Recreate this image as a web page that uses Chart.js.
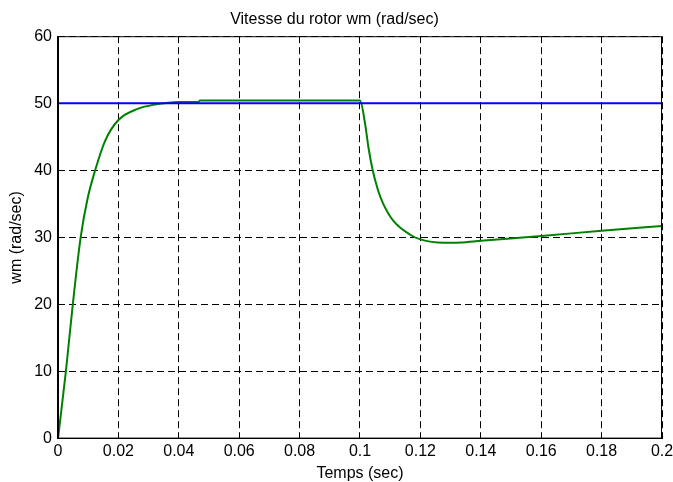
<!DOCTYPE html>
<html>
<head>
<meta charset="utf-8">
<script src="https://cdn.jsdelivr.net/npm/chart.js@4"></script>
<style>
  html, body { margin: 0; padding: 0; background: #fff; }
  #wrap { width: 673px; height: 482px; }
</style>
</head>
<body>
<div id="wrap"><canvas id="myChart" width="673" height="482"></canvas></div>
<script>
// rotor speed
const timeSec = [0, 0.0026, 0.0049, 0.0075, 0.0098, 0.0123, 0.0156, 0.02,
  0.0266, 0.032, 0.04, 0.0465, 0.047, 0.0998, 0.1, 0.1017, 0.1028, 0.1042, 0.106, 0.1077,
  0.111, 0.1166, 0.12, 0.1277, 0.1333, 0.14, 0.16, 0.18, 0.2];
const wmSpeed = [0, 10, 20, 30, 35.8, 40, 44.4, 47.5,
  49.2, 49.8, 50.2, 50.2, 50.4, 50.4, 50.4, 46.9, 43.4, 40, 37, 35,
  32.5, 30.4, 29.7, 29.2, 29.25, 29.5, 30.2, 31.0, 31.7];
const refTime = [0, 0.2];
const refSpeed = [50, 50];

const xTicks = [0, 0.02, 0.04, 0.06, 0.08, 0.1, 0.12, 0.14, 0.16, 0.18, 0.2];
const yTicks = [0, 10, 20, 30, 40, 50, 60];

const FONT = "'Liberation Sans', Arial, sans-serif";

const frame = {
  id: "frame",
  afterDatasetsDraw(chart) {
    const { ctx, chartArea: a } = chart;
    ctx.save();
    ctx.strokeStyle = "#000";
    ctx.lineWidth = 1;
    ctx.setLineDash([]);
    ctx.strokeRect(a.left + 0.5, a.top + 0.5, a.right - a.left - 1, a.bottom - a.top - 1);
    ctx.restore();
  },
};

const ctx = document.getElementById("myChart").getContext("2d");
new Chart(ctx, {
  type: "line",
  data: {
    datasets: [
      {
        label: "wm ref",
        data: refTime.map((t, i) => ({ x: t, y: refSpeed[i] })),
        borderColor: "#0000ff",
        borderWidth: 2,
        pointRadius: 0,
        fill: false,
      },
      {
        label: "wm",
        data: timeSec.map((t, i) => ({ x: t, y: wmSpeed[i] })),
        borderColor: "#008000",
        borderWidth: 2,
        pointRadius: 0,
        cubicInterpolationMode: "monotone",
        fill: false,
      },
    ],
  },
  options: {
    responsive: false,
    animation: false,
    layout: { padding: { left: 7, right: 11, top: 0, bottom: -1 } },
    plugins: {
      legend: { display: false },
      tooltip: { enabled: false },
      title: {
        display: true,
        text: "Vitesse du rotor wm (rad/sec)",
        color: "#000",
        font: { family: FONT, size: 16, weight: "normal" },
        padding: { top: 10, bottom: 7 },
      },
    },
    scales: {
      x: {
        type: "linear",
        min: 0,
        max: 0.2,
        afterBuildTicks: (s) => { s.ticks = xTicks.map((v) => ({ value: v })); },
        afterFit: (s) => { s.paddingRight = 0; },
        ticks: {
          color: "#000",
          font: { family: FONT, size: 16 },
          padding: 3,
          maxRotation: 0,
          callback: (v) => String(+v.toFixed(2)),
        },
        grid: { color: "#000", lineWidth: 1, drawTicks: false },
        border: { color: "#000", width: 1, dash: [7, 4] },
        title: {
          display: true,
          text: "Temps (sec)",
          color: "#000",
          font: { family: FONT, size: 16 },
          padding: { top: 0, bottom: 0 },
        },
      },
      y: {
        type: "linear",
        min: 0,
        max: 60,
        afterBuildTicks: (s) => { s.ticks = yTicks.map((v) => ({ value: v })); },
        ticks: {
          color: "#000",
          font: { family: FONT, size: 16 },
          padding: 6,
        },
        grid: { color: "#000", lineWidth: 1, drawTicks: false },
        border: { color: "#000", width: 1, dash: [7, 4] },
        title: {
          display: true,
          text: "wm (rad/sec)",
          color: "#000",
          font: { family: FONT, size: 16 },
          padding: { top: 0, bottom: 2 },
        },
      },
    },
  },
  plugins: [frame],
});
</script>
</body>
</html>
